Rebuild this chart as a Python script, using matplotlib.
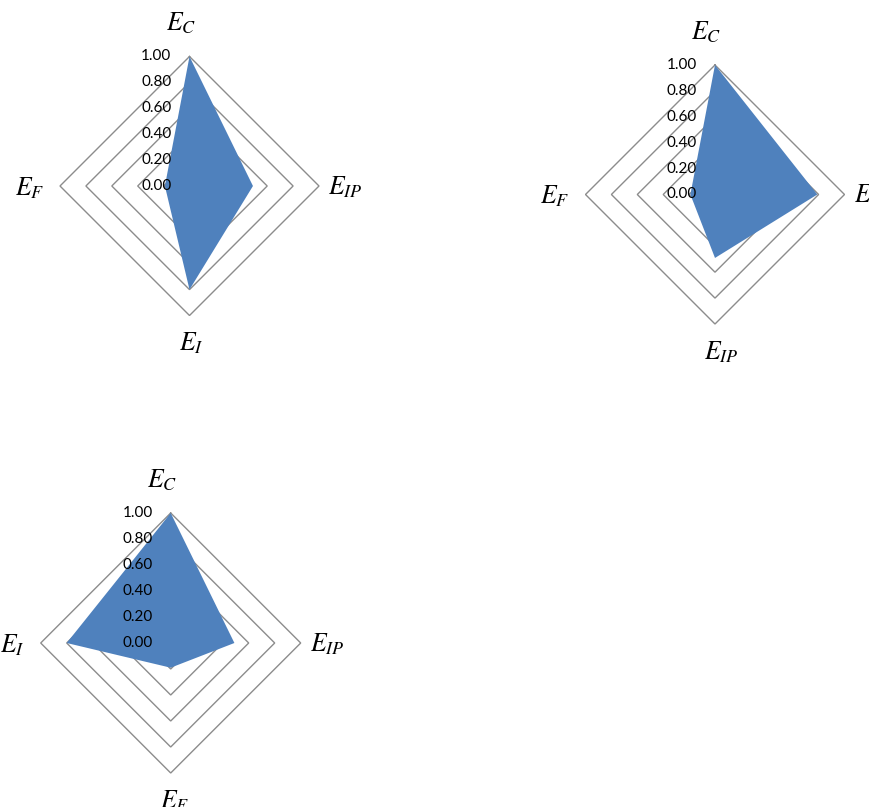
import numpy as np
import matplotlib
matplotlib.use("Agg")
import matplotlib.pyplot as plt

plt.rcParams['mathtext.fontset'] = 'stix'

# ---- data ----
chart1_categories = ['C', 'IP', 'I', 'F']
chart1_values = [1.00, 0.49, 0.80, 0.19]

chart2_categories = ['C', 'I', 'IP', 'F']
chart2_values = [1.00, 0.79, 0.49, 0.19]

chart3_categories = ['C', 'IP', 'F', 'I']
chart3_values = [1.00, 0.49, 0.19, 0.80]

grid_levels = [0.2, 0.4, 0.6, 0.8, 1.0]
tick_values = [0.0, 0.2, 0.4, 0.6, 0.8, 1.0]
tick_labels = ['0.00', '0.20', '0.40', '0.60', '0.80', '1.00']

# ---- layout (pixels) ----
W, H = 869, 807
DPI = 100
FILL = '#4F81BD'
GRID = '#8C8C8C'

fig = plt.figure(figsize=(W / DPI, H / DPI), dpi=DPI)


def radar(cx, cy, R, categories, values):
    S = 1.6 * R
    ax = fig.add_axes([(cx - S) / W, (H - cy - S) / H, 2 * S / W, 2 * S / H])
    ax.set_xlim(-S / R, S / R)
    ax.set_ylim(-S / R, S / R)
    ax.axis('off')
    n = len(categories)
    th = np.arange(n) * 2 * np.pi / n
    sx, sy = np.sin(th), np.cos(th)
    # diamond gridlines
    for lv in grid_levels:
        xs = np.append(lv * sx, lv * sx[0])
        ys = np.append(lv * sy, lv * sy[0])
        ax.plot(xs, ys, color=GRID, lw=1.0, zorder=1, clip_on=False,
                solid_joinstyle='miter')
    # filled series
    v = np.asarray(values)
    ax.fill(v * sx, v * sy, color=FILL, lw=0, zorder=2, clip_on=False)
    # radial tick labels
    for tv, tl in zip(tick_values, tick_labels):
        ax.annotate(tl, (0, tv), xytext=(-18, 0), textcoords='offset pixels',
                    ha='right', va='center', fontsize=11, family='Lato',
                    color='black', zorder=3, annotation_clip=False)
    # category labels
    for i, c in enumerate(categories):
        txt = r'$E_{%s}$' % c
        px, py = sx[i], sy[i]
        if py > 0.5:  # top
            off, ha, va = (-24, 26), 'left', 'baseline'
        elif py < -0.5:  # bottom
            off, ha, va = (-11, -35), 'left', 'baseline'
        elif px > 0:  # right
            off, ha, va = (9, -8), 'left', 'baseline'
        else:  # left
            off, ha, va = (-16, -9), 'right', 'baseline'
        ax.annotate(txt, (px, py), xytext=off, textcoords='offset pixels',
                    ha=ha, va=va, fontsize=18.5, color='black',
                    annotation_clip=False)


radar(189.5, 186.0, 129.5, chart1_categories, chart1_values)
radar(715.0, 194.5, 129.5, chart2_categories, chart2_values)
radar(170.7, 643.0, 130.0, chart3_categories, chart3_values)

fig.savefig('out.png', dpi=DPI, facecolor='white')
